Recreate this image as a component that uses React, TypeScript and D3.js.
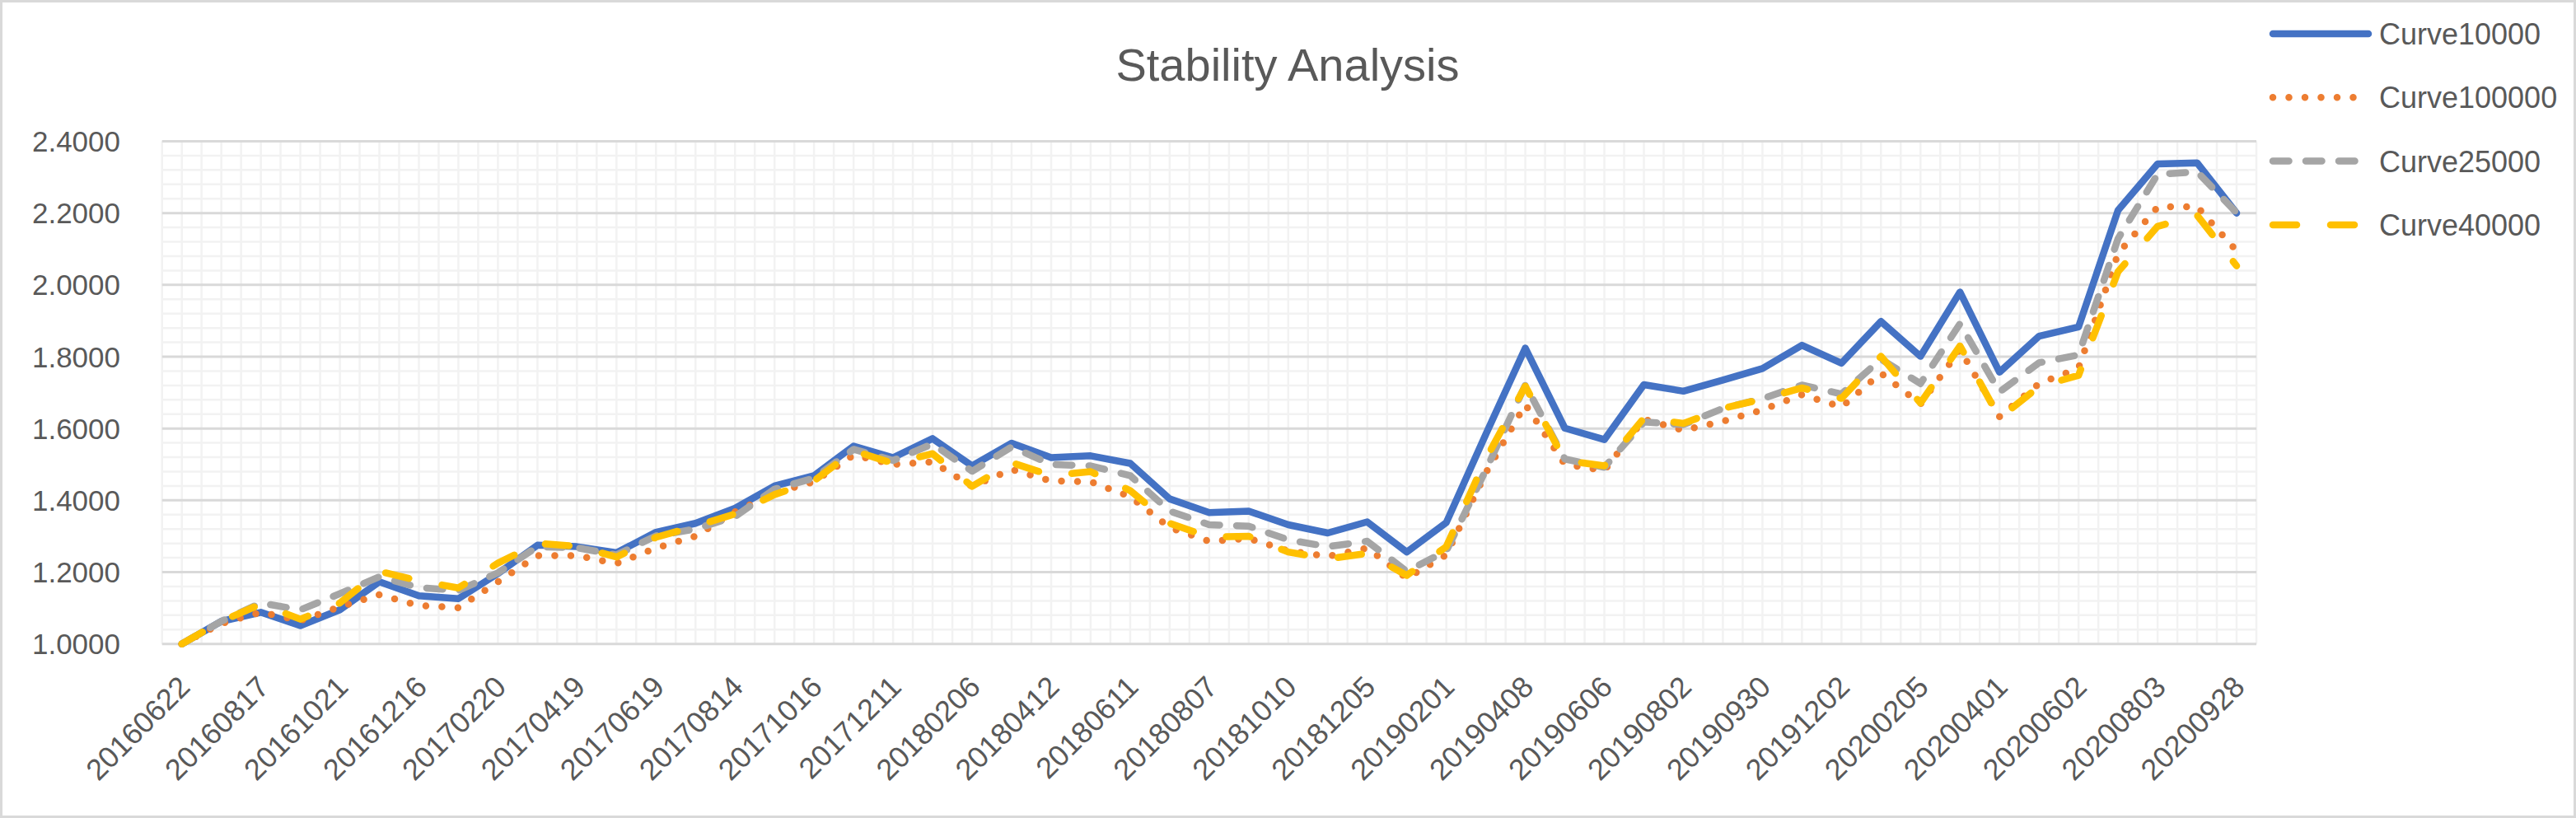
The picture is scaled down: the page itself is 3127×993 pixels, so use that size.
import React, { useEffect } from 'react'
import * as d3 from 'd3'

const W = 3127
const H = 993

// labels sit under every second category
const tickLabels = [
  '20160622', '20160817', '20161021', '20161216', '20170220', '20170419', '20170619',
  '20170814', '20171016', '20171211', '20180206', '20180412', '20180611', '20180807',
  '20181010', '20181205', '20190201', '20190408', '20190606', '20190802', '20190930',
  '20191202', '20200205', '20200401', '20200602', '20200803', '20200928',
]

const curve10000 = [
  1.000, 1.063, 1.088, 1.051, 1.095, 1.173, 1.134, 1.126, 1.196, 1.275, 1.271,
  1.254, 1.311, 1.336, 1.378, 1.440, 1.469, 1.551, 1.519, 1.572, 1.496,
  1.559, 1.519, 1.524, 1.503, 1.404, 1.366, 1.370, 1.332, 1.309, 1.340, 1.256,
  1.338, 1.584, 1.824, 1.601, 1.569, 1.722, 1.704, 1.735, 1.767, 1.832, 1.782,
  1.898, 1.801, 1.980, 1.757, 1.857, 1.883, 2.208, 2.337, 2.340, 2.200,
]

const curve100000 = [
  1.000, 1.057, 1.088, 1.065, 1.103, 1.137, 1.107, 1.101, 1.173, 1.246, 1.246,
  1.224, 1.267, 1.300, 1.368, 1.420, 1.452, 1.526, 1.500, 1.507, 1.439,
  1.486, 1.454, 1.452, 1.410, 1.324, 1.286, 1.294, 1.259, 1.244, 1.267, 1.183,
  1.248, 1.476, 1.667, 1.500, 1.483, 1.626, 1.595, 1.620, 1.652, 1.694, 1.660,
  1.754, 1.668, 1.820, 1.633, 1.725, 1.768, 2.087, 2.217, 2.218, 2.095,
]

const curve25000 = [
  1.000, 1.063, 1.114, 1.095, 1.140, 1.187, 1.157, 1.149, 1.198, 1.271, 1.268,
  1.248, 1.301, 1.320, 1.355, 1.431, 1.462, 1.542, 1.511, 1.557, 1.481,
  1.549, 1.500, 1.496, 1.469, 1.370, 1.332, 1.328, 1.290, 1.271, 1.286, 1.202,
  1.259, 1.484, 1.721, 1.515, 1.492, 1.618, 1.611, 1.656, 1.683, 1.721, 1.696,
  1.793, 1.725, 1.892, 1.702, 1.783, 1.805, 2.129, 2.308, 2.315, 2.201,
]

const curve40000 = [
  1.000, 1.063, 1.111, 1.069, 1.114, 1.202, 1.176, 1.156, 1.225, 1.280, 1.272,
  1.242, 1.297, 1.328, 1.362, 1.416, 1.454, 1.538, 1.503, 1.530, 1.439,
  1.505, 1.469, 1.480, 1.427, 1.336, 1.298, 1.300, 1.256, 1.237, 1.252, 1.191,
  1.271, 1.515, 1.718, 1.511, 1.496, 1.629, 1.614, 1.656, 1.682, 1.713, 1.684,
  1.801, 1.671, 1.830, 1.629, 1.717, 1.748, 2.037, 2.163, 2.194, 2.053,
]

const series = [
  { name: 'Curve10000', values: curve10000, color: '#4472C4', dash: undefined as string | undefined },
  { name: 'Curve100000', values: curve100000, color: '#ED7D31', dash: '0 19.5' },
  { name: 'Curve25000', values: curve25000, color: '#A5A5A5', dash: '19.5 20.5' },
  { name: 'Curve40000', values: curve40000, color: '#FFC000', dash: '29 41' },
]

const plot = { left: 196.7, right: 2739, top: 171.5, bottom: 781.7 }
const font = "'Liberation Sans', Arial, sans-serif"
const textColor = '#595959'

const App = () => {
  useEffect(() => {
    document.body.style.margin = '0'
  }, [])

  const idx = d3.range(curve10000.length)
  const x = d3.scalePoint<number>().domain(idx).range([plot.left, plot.right]).padding(0.5)
  const y = d3.scaleLinear().domain([1, 2.4]).range([plot.bottom, plot.top])
  const step = x.step()

  const vLines = d3.range(0, idx.length * 2 + 1).map(k => plot.left + (k * step) / 2)
  const majorY = y.ticks(7)
  const minorY = d3.range(0, 36).map(k => 1 + k * 0.04).filter(v => Math.abs(v * 5 - Math.round(v * 5)) > 1e-6)

  const line = d3.line<number>().x((_, i) => x(i)!).y(d => y(d))

  return (
    <svg width={W} height={H} style={{ display: 'block', position: 'absolute', left: 0, top: 0 }}>
      <rect x={0} y={0} width={W} height={H} fill="#ffffff" />
      <rect x={1.5} y={1.5} width={W - 3} height={H - 3} fill="none" stroke="#D9D9D9" strokeWidth={3} />

      <text x={1563} y={98} textAnchor="middle" fontFamily={font} fontSize={56} fill={textColor}>
        Stability Analysis
      </text>

      {/* gridlines */}
      <g>
        {minorY.map(v => (
          <line key={'hy' + v} x1={plot.left} x2={plot.right} y1={y(v)} y2={y(v)} stroke="#F2F2F2" strokeWidth={2.5} />
        ))}
        {vLines.map((px, k) => (
          <line key={'vx' + k} x1={px} x2={px} y1={plot.top} y2={plot.bottom} stroke="#F2F2F2" strokeWidth={2.5} />
        ))}
        {majorY.map(v => (
          <line key={'my' + v} x1={plot.left} x2={plot.right} y1={y(v)} y2={y(v)} stroke="#D9D9D9" strokeWidth={3} />
        ))}
      </g>

      {/* y axis labels */}
      <g fontFamily={font} fontSize={35} fill={textColor} textAnchor="end">
        {majorY.map(v => (
          <text key={'yl' + v} x={146} y={y(v)} dy="0.36em">
            {d3.format('.4f')(v)}
          </text>
        ))}
      </g>

      {/* x axis labels */}
      <g fontFamily={font} fontSize={36} fill={textColor} textAnchor="end">
        {tickLabels.map((lab, j) => {
          const px = x(j * 2)! + 12
          const py = 836
          return (
            <text key={lab} x={px} y={py} transform={`rotate(-45, ${px}, ${py})`}>
              {lab}
            </text>
          )
        })}
      </g>

      {/* series */}
      <g fill="none" strokeLinejoin="round" strokeLinecap="round">
        {series.map(s => (
          <path key={s.name} d={line(s.values) || ''} stroke={s.color} strokeWidth={8.5} strokeDasharray={s.dash} />
        ))}
      </g>

      {/* legend */}
      <g fontFamily={font} fontSize={36} fill={textColor}>
        {series.map((s, i) => {
          const ly = 41 + i * 77.3
          return (
            <g key={'lg' + s.name}>
              <line x1={2759} x2={2875} y1={ly} y2={ly} stroke={s.color} strokeWidth={8.5}
                strokeLinecap="round" strokeDasharray={s.dash} />
              <text x={2888} y={ly} dy="0.36em">{s.name}</text>
            </g>
          )
        })}
      </g>
    </svg>
  )
}

export default App
